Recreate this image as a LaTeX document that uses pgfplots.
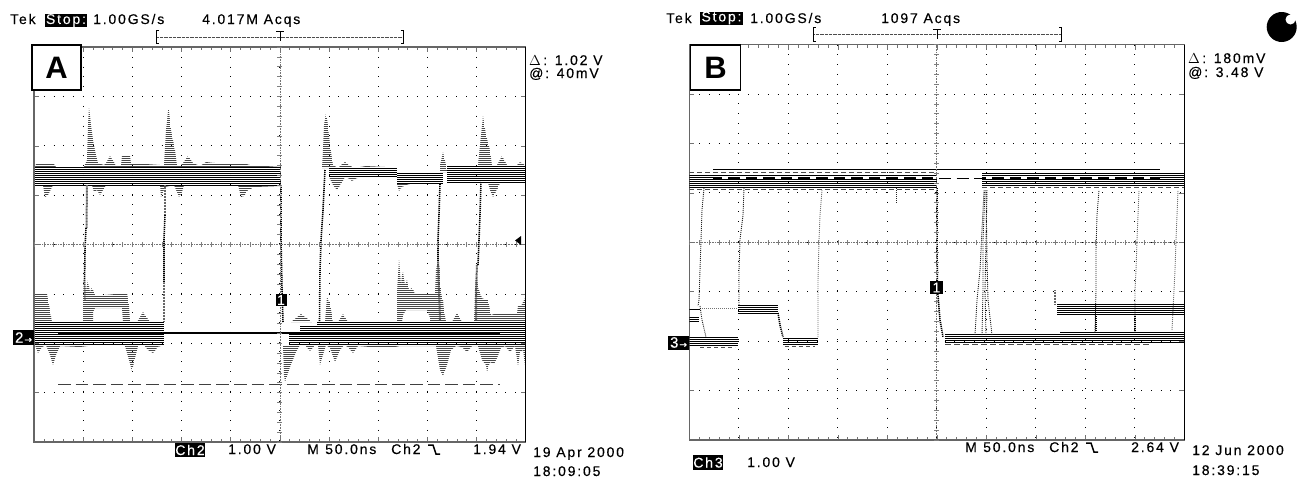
\documentclass[border=0pt]{standalone}
\usepackage{pgfplots}
\pgfplotsset{compat=1.18}
\usepackage{fontspec}
\usetikzlibrary{patterns.meta}
\setmainfont[LetterSpace=13,FakeBold=0.25]{Liberation Sans}
\newfontfamily\plainfont{Liberation Sans}
\newfontfamily\arrowfont[FakeBold=0.6]{DejaVu Sans}
\newcommand\T[3]{\node[anchor=base west,inner sep=0pt] at (#1pt,-#2pt) {#3};}
\newcommand\INV[5]{\node[anchor=center,inner sep=0pt,fill=black,text=white,minimum width=#3pt,minimum height=#4pt] at (#1pt,-#2pt) {#5};}
\newcommand\TRIG[2]{\draw[line width=1.5pt,line join=miter] (#1pt-6pt,-#2pt-1pt) -- (#1pt-1pt,-#2pt-1pt) -- (#1pt+2pt,-#2pt-10pt) -- (#1pt+6pt,-#2pt-10pt);}
% one stripe of the persistence trace per displayed scan line: x1,x2,first y,second y,last y
\newcommand\BAND[5]{\pgfplotsforeachungrouped \yy in {#3,#4,...,#5}{\edef\temp{\noexpand\addplot[black,line width=1.05pt] coordinates {(#1,\yy)(#2,\yy)};}\temp}}
\pgfplotsset{
  scope/.style={scale only axis,xticklabel=\empty,yticklabel=\empty,y dir=reverse,
    tick align=inside,minor tick num=4,major tick length=5pt,minor tick length=3pt,
    tick style={black!55,line width=.6pt},
    axis line style={black!60,line width=1.2pt},
    grid=major,major grid style={black,line width=.8pt,dash pattern=on 1pt off 8.82pt},
    minor grid style={draw=none}},
  cross/.style={scale only axis,xticklabel=\empty,yticklabel=\empty,axis lines=middle,
    xmin=-5,xmax=5,ymin=-4,ymax=4,xtick distance=.2,ytick distance=.2,
    tick align=center,major tick length=5pt,tick style={black!50,line width=.6pt},
    axis line style={-,black!55,line width=.7pt,dash pattern=on .8pt off .8pt}},
  hatch/.style={draw=none,pattern={Lines[angle=0,distance=2pt,line width=1pt]},pattern color=black!72},
  edge/.style={black,line width=1.6pt,dash pattern=on 1.1pt off .9pt},
  gedge/.style={black!60,line width=2pt,dash pattern=on 1pt off .5pt},
  fine/.style={black!85,line width=.9pt,dash pattern=on 1pt off 1pt},
  lgray/.style={black!55,line width=.9pt,dash pattern=on 1pt off 1pt},
}
\begin{document}
\begin{tikzpicture}[x=1pt,y=1pt]
\useasboundingbox (0,0) rectangle (1297pt,-479pt);
% ---------- Panel A: coordinates are digitised screen positions (49.2 units = 50 ns, 49.4 units = 1 V)
\begin{axis}[scope,at={(34pt,-442pt)},anchor=south west,width=491.7pt,height=395pt,
  xmin=34,xmax=525.7,ymin=47,ymax=442,
  xtick={34,83.17,132.34,181.51,230.68,279.85,329.02,378.19,427.36,476.53,525.7},
  ytick={47,96.4,145.8,195.1,244.5,293.9,343.2,392.6,442}]
% gray overshoot around high level
\addplot[hatch] coordinates {(35,167)(36,164)(54,164)(56,167)(84,167)(87,160)(88,125)(89,107)(91,125)(93,140)(96,155)(98,163)(104,165)(106,163)(110,156)(114,162)(116,166)(121,165)(122,156)(130,156)(131,163)(160,165)(164,165)(166,130)(168.5,107)(171,130)(175,150)(177,165)(181,165)(183,163)(188,156)(193,163)(200,166)(206,162)(215,163)(230,164)(243,163)(250,165)(281,167)} -- cycle;
\addplot[hatch] coordinates {(322,168)(323,150)(324,125)(326,113)(328,125)(330,145)(333,165)(338,168)(341,165)(345,162)(349,165)(354,168)} -- cycle;
\addplot[hatch] coordinates {(360,167)(366,166)(385,167)} -- cycle;
\addplot[hatch] coordinates {(440,172)(440,165)(443,152)(446,165)(447,172)} -- cycle;
\addplot[hatch] coordinates {(447,166)(478,165)(480,145)(483,116)(486,135)(490,150)(492,165)(497,165)(502,156)(507,165)(517,165)(520,162)(525,165)(525,166)} -- cycle;
\addplot[hatch] coordinates {(35,185)(43,185)(45,197)(48,195)(53,185)(92,185)(94,192)(97,190)(100,195)(103,190)(106,185)(160,185)(161,197)(165,187)(174,185)(177,192)(179,197)(182,192)(184,185)(238,185)(241,197)(244,196)(248,190)(255,187)(281,186)} -- cycle;
\addplot[hatch] coordinates {(329,177)(333,185)(337,190)(341,184)(345,177)(350,179)(352,181)(355,179)(360,177)} -- cycle;
\addplot[hatch] coordinates {(397,184)(399,191)(402,187)(406,185)(410,184)} -- cycle;
\addplot[hatch] coordinates {(488,183)(490,190)(493,197)(497,190)(500,183)} -- cycle;
% high level
\BAND{35}{281}{167.5}{169.5}{185.5}
\BAND{329}{397}{168.5}{170.5}{176.5}
\BAND{397}{443}{173.5}{175.5}{183.5}
\BAND{447}{525.7}{166.5}{168.5}{182.5}
% edges
\addplot[gedge] coordinates {(87,185)(86.5,228)};
\addplot[edge] coordinates {(86,228)(85,250)(84.5,283)(85,300)};
\addplot[gedge] coordinates {(165,185)(165,215)};
\addplot[edge] coordinates {(165,215)(164,240)(164,283)};
\addplot[gedge] coordinates {(163.5,283)(163.5,322)};
\addplot[edge] coordinates {(281,185)(281,240)(282,290)(283,322)};
\addplot[edge] coordinates {(325,170)(323,210)(321,240)(320,270)(319.5,322)};
\addplot[edge] coordinates {(440,184)(439,215)(438,240)(438,262)};
\addplot[gedge] coordinates {(438,262)(439,290)(440,320)};
\addplot[edge] coordinates {(481,182)(480,215)(479,240)(478,265)};
\addplot[gedge] coordinates {(477,265)(476,295)(476,320)};
% shelves and overshoot above low level
\addplot[hatch] coordinates {(35,322)(35,294)(47,294)(50,310)(52,322)} -- cycle;
\addplot[hatch] coordinates {(83,322)(83,300)(84,276)(86,290)(88,280)(90,292)(92,287)(95,295)(105,295)(127,293)(129,305)(130,322)(123,322)(122,308)(95,308)(93,312)(93,322)} -- cycle;
\addplot[hatch] coordinates {(137,322)(143,312)(150,322)} -- cycle;
\addplot[hatch] coordinates {(291,322)(301,314)(312,322)} -- cycle;
\addplot[hatch] coordinates {(325,322)(327,297)(330,303)(333,322)} -- cycle;
\addplot[hatch] coordinates {(338,322)(343,314)(348,322)} -- cycle;
\addplot[hatch] coordinates {(397,322)(397,293)(398,275)(399,259)(401,285)(402,275)(403,272)(405,285)(407,280)(409,290)(412,288)(415,293)(441,293)(443,300)(444,310)(446,322)(430,322)(430,318)(427,310)(406,310)(403,315)(402,322)} -- cycle;
\addplot[hatch] coordinates {(435,293)(436,270)(438,260)(440,270)(441,293)} -- cycle;
\addplot[hatch] coordinates {(452,322)(457,313)(462,322)} -- cycle;
\addplot[hatch] coordinates {(474,322)(475,290)(476,273)(479,290)(482,298)(486,300)(488,300)(491,315)(494,314)(525,314)(525,322)} -- cycle;
\addplot[hatch] coordinates {(517,314)(518,305)(521,306)(523,302)(525,298)(525,314)} -- cycle;
% overshoot below low level
\addplot[hatch] coordinates {(35,345)(38,353)(42,347)(46,345)(50,355)(53,365)(56,355)(60,346)(80,347)(95,345)(125,346)(129,360)(132,371)(135,358)(138,346)(144,345)(148,350)(153,353)(158,347)(163.5,345)} -- cycle;
\addplot[hatch] coordinates {(283,345)(284,375)(285,382)(290,367)(296,352)(300,345)(305,345)(310,351)(315,345)(318,345)(320,365)(322,358)(326,345)(330,348)(335,362)(340,350)(344,345)(348,347)(353,353)(358,346)(370,347)(395,347)(400,346)(436,346)(440,370)(443,376)(447,365)(451,350)(456,346)(462,347)(467,352)(472,346)(478,346)(482,360)(486,365)(487,372)(490,362)(494,364)(497,358)(501,348)(505,346)(510,352)(515,346)(518,366)(520,352)(523,350)(525,366)(525,345)} -- cycle;
% low level
\BAND{35}{163.5}{322.5}{324.5}{344.5}
\BAND{317}{525.7}{322.5}{324.5}{344.5}
\BAND{300}{317}{326.5}{328.5}{344.5}
\BAND{289}{300}{334.5}{336.5}{344.5}
\addplot[black,line width=1.4pt] coordinates {(58,333)(500,333)};
\addplot[black!75,line width=1pt,dash pattern=on 12.5pt off 5.1pt] coordinates {(58,384)(500,384)};
\end{axis}
\begin{axis}[cross,at={(34pt,-442pt)},anchor=south west,width=491.7pt,height=395pt]
\end{axis}
\draw[line width=1.2pt] (525.7pt,-47pt) -- (525.7pt,-442pt);
% ---------- Panel B
\begin{axis}[scope,at={(689.3pt,-440pt)},anchor=south west,width=495pt,height=395.5pt,
  xmin=689.3,xmax=1184.3,ymin=44.5,ymax=440,
  xtick={689.3,738.8,788.3,837.8,887.3,936.8,986.3,1035.8,1085.3,1134.8,1184.3},
  ytick={44.5,93.9,143.4,192.8,242.25,291.7,341.1,390.6,440}]
% high level
\BAND{689.3}{937}{175.5}{177.5}{187.5}
\BAND{982}{1184.3}{173.5}{175.5}{185.5}
\addplot[black,line width=1pt] coordinates {(713,169.5)(1160,169.5)};
\addplot[black,line width=2pt] coordinates {(713,178)(937,178)};
\addplot[black,line width=2pt] coordinates {(982,178)(1160,178)};
\addplot[white,line width=2pt,dash pattern=on 6pt off 11.6pt] coordinates {(722,178)(1160,178)};
\addplot[black,line width=1pt,dash pattern=on 12pt off 5.6pt] coordinates {(939,178)(982,178)};
\addplot[black!70,line width=.9pt,dash pattern=on 5pt off 3pt] coordinates {(689.3,172.5)(937,172.5)};
\addplot[black!70,line width=.9pt,dash pattern=on 5pt off 3pt] coordinates {(689.3,189.5)(937,189.5)};
\addplot[black!70,line width=.9pt,dash pattern=on 5pt off 3pt] coordinates {(982,187.5)(1184,187.5)};
% low level and shelves
\BAND{689.3}{738}{337.5}{339.5}{345.5}
\BAND{738}{778}{305.5}{307.5}{313.5}
\BAND{783}{818}{338.5}{340.5}{344.5}
\BAND{945}{1184.3}{334.5}{336.5}{342.5}
\addplot[black,line width=1.05pt] coordinates {(1060,332.5)(1184.3,332.5)};
\BAND{1057}{1184.3}{304.5}{306.5}{314.5}
\BAND{689.3}{699}{317.5}{319.5}{321.5}
\addplot[black,line width=.9pt] coordinates {(689.3,309)(700,309)};
\addplot[lgray] coordinates {(700,308)(738,308)};
\addplot[black!70,line width=.9pt,dash pattern=on 4pt off 3pt] coordinates {(700,347.5)(735,347.5)};
\addplot[black!70,line width=.9pt,dash pattern=on 4pt off 3pt] coordinates {(785,346.5)(815,346.5)};
\addplot[black!70,line width=.9pt,dash pattern=on 6pt off 3pt] coordinates {(945,344.5)(1150,344.5)};
% edges
\addplot[fine] coordinates {(704,188)(702,210)(701,240)(700,270)(699,300)(698,306)};
\addplot[fine] coordinates {(700,306)(702,320)(706,337)};
\addplot[fine] coordinates {(744,188)(743,215)(740,240)(739,270)(739,305)};
\addplot[lgray] coordinates {(822,190)(820,215)(819,240)(818,280)(818,338)};
\addplot[edge] coordinates {(937,188)(937,250)(937.5,290)(940,320)(943,337)};
\addplot[edge] coordinates {(778,313)(780,325)(783,337)};
\addplot[fine] coordinates {(896,188)(896,203)};
\addplot[fine] coordinates {(975,335)(977,300)(980,270)(982,230)(984,190)};
\addplot[fine] coordinates {(982,335)(983,290)(983,240)(985,190)};
\addplot[fine] coordinates {(986,335)(985,290)(986,240)(987,190)};
\addplot[fine] coordinates {(992,335)(988,300)(987,260)(986,190)};
\addplot[fine] coordinates {(1095,332)(1096,290)(1096,250)(1097,215)(1099,190)};
\addplot[lgray] coordinates {(1135,332)(1135,290)(1136,270)(1137,240)(1139,190)};
\addplot[lgray] coordinates {(1172,330)(1174,290)(1175,270)(1176,240)(1178,190)};
\addplot[gedge] coordinates {(1055,290)(1055,305)};
\addplot[edge] coordinates {(1096,314)(1096,332)};
\addplot[edge] coordinates {(1135,314)(1135,332)};
\end{axis}
\begin{axis}[cross,at={(689.3pt,-440pt)},anchor=south west,width=495pt,height=395.5pt]
\end{axis}
\draw[line width=1.2pt] (1184.3pt,-44.5pt) -- (1184.3pt,-440pt);
% ---------- Labels A
\draw[black!70,line width=.7pt,dash pattern=on .8pt off .5pt] (157pt,-37pt) -- (403pt,-37pt);
\draw[line width=1pt] (159pt,-30.5pt) -- (156.5pt,-30.5pt) -- (156.5pt,-43pt) -- (159pt,-43pt);
\draw[line width=1pt] (400.5pt,-30.5pt) -- (403pt,-30.5pt) -- (403pt,-43pt) -- (400.5pt,-43pt);
\draw[line width=1pt] (276pt,-31pt) -- (284pt,-31pt) (280pt,-31pt) -- (280pt,-41pt);
\node[fill=white,draw=black,line width=1.3pt,minimum width=49pt,minimum height=45pt,inner sep=0pt,font=\plainfont\fontsize{31}{31}\selectfont\bfseries] at (56.5pt,-67.5pt) {A};
\begingroup\fontsize{14}{14}\selectfont
\T{10}{24}{Tek}\INV{66}{20.5}{42}{13}{Stop:}\T{93}{24}{1.00GS/s}\T{202}{24}{4.017M Acqs}
\T{529}{65}{$\Delta$\,: 1.02 V}\T{529}{78}{@: 40mV}
\INV{190}{450}{30}{14}{Ch2}\T{228}{454}{1.00 V}\T{307}{454}{M}\T{325}{454}{50.0ns}\T{391}{454}{Ch2}\T{473}{454}{1.94 V}
\T{533}{457}{19 Apr 2000}\T{533}{476}{18:09:05}
\INV{23.5}{337.5}{21}{15}{{\fontsize{15}{15}\selectfont 2}\kern1pt{\arrowfont\fontsize{9}{9}\selectfont→}}
\INV{281}{300}{11}{12}{1}
\TRIG{434}{444}
% ---------- Labels B
\draw[black!70,line width=.7pt,dash pattern=on .8pt off .5pt] (813pt,-34pt) -- (1061pt,-34pt);
\draw[line width=1pt] (815.5pt,-27.5pt) -- (813pt,-27.5pt) -- (813pt,-41pt) -- (815.5pt,-41pt);
\draw[line width=1pt] (1059pt,-27.5pt) -- (1061.5pt,-27.5pt) -- (1061.5pt,-41pt) -- (1059pt,-41pt);
\draw[line width=1pt] (933pt,-29pt) -- (941pt,-29pt) (937pt,-29pt) -- (937pt,-39pt);
\node[fill=white,draw=black,line width=1.3pt,minimum width=49.5pt,minimum height=45pt,inner sep=0pt,font=\plainfont\fontsize{31}{31}\selectfont\bfseries] at (715.5pt,-67.5pt) {B};
\T{666}{23}{Tek}\INV{721.5}{18}{43}{13}{Stop:}\T{750}{23}{1.00GS/s}\T{881}{23}{1097 Acqs}
\T{1188}{63}{$\Delta$\,: 180mV}\T{1188}{77}{@: 3.48 V}
\INV{708}{462.5}{30}{15}{Ch3}\T{747}{467}{1.00 V}
\T{965}{452}{M}\T{983}{452}{50.0ns}\T{1049}{452}{Ch2}\T{1131}{452}{2.64 V}
\T{1192}{455}{12 Jun 2000}\T{1192}{475}{18:39:15}
\INV{678.5}{342.5}{21}{14}{{\fontsize{15}{15}\selectfont 3}\kern1pt{\arrowfont\fontsize{9}{9}\selectfont→}}
\INV{936.5}{287.5}{13}{13}{1}
\TRIG{1092}{442}
\endgroup
\fill (521pt,-236pt) -- (521pt,-245pt) -- (515pt,-240.5pt) -- cycle;
\fill[black] (1281.7pt,-27pt) circle (15pt);
\fill[white] (1290.5pt,-19.5pt) circle (5pt);
\end{tikzpicture}
\end{document}
